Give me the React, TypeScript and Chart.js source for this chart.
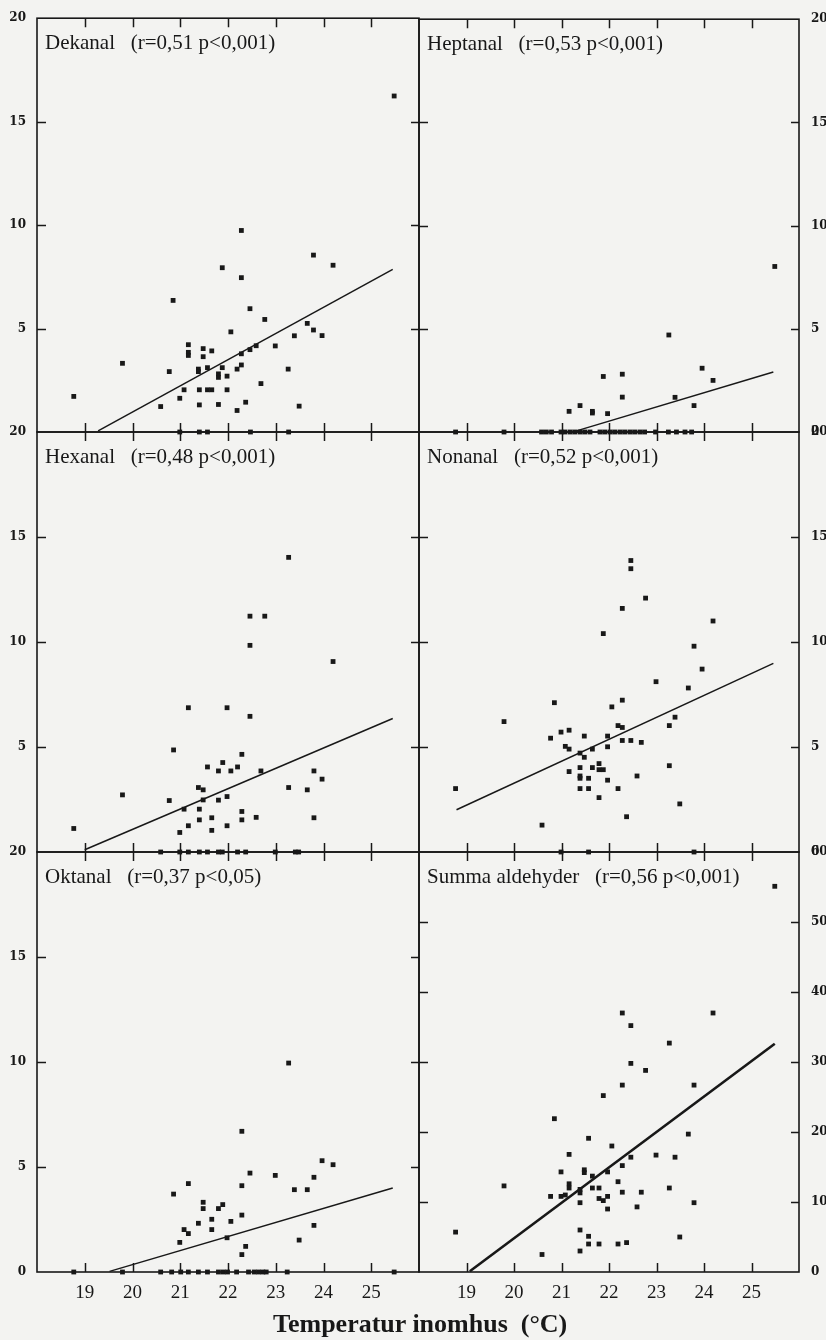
import React, { useEffect, useRef } from "react";
import { Chart, registerables } from "chart.js";

Chart.register(...registerables);

// ---------- DATA ----------
const xTickLabels = [19, 20, 21, 22, 23, 24, 25];

// Dekanal
const dekanalTemp = [18.77, 19.79, 20.85, 20.77, 20.59, 20.99, 21.08, 21.17, 21.17, 21.17, 21.38, 21.38, 21.4, 21.4, 21.48, 21.48, 21.57, 21.57, 21.66, 21.66, 21.8, 21.8, 21.8, 21.88, 21.88, 21.98, 21.98, 22.06, 22.19, 22.19, 22.28, 22.28, 22.28, 22.28, 22.37, 22.46, 22.46, 22.59, 22.69, 22.77, 22.99, 23.26, 23.39, 23.49, 23.66, 23.79, 23.79, 23.97, 24.2, 25.48];
const dekanalConc = [1.72, 3.32, 6.36, 2.92, 1.23, 1.63, 2.04, 4.22, 3.85, 3.7, 3.04, 2.92, 2.04, 1.31, 4.03, 3.64, 3.11, 2.04, 2.04, 3.92, 2.81, 2.64, 1.33, 7.94, 3.11, 2.7, 2.04, 4.84, 3.04, 1.04, 9.74, 7.46, 3.78, 3.24, 1.44, 5.96, 3.98, 4.17, 2.34, 5.44, 4.16, 3.04, 4.65, 1.25, 5.25, 8.55, 4.93, 4.66, 8.06, 16.24];
const dekanalZeroTemp = [20.99, 21.4, 21.57, 22.47, 23.27];
const dekanalFitTemp = [19.28, 25.45];
const dekanalFitConc = [0.05, 7.86];

// Heptanal
const heptanalTemp = [25.49, 23.26, 23.96, 24.19, 21.88, 22.28, 22.28, 23.39, 23.79, 21.16, 21.39, 21.65, 21.65, 21.97];
const heptanalConc = [8.02, 4.7, 3.09, 2.5, 2.69, 2.8, 1.69, 1.68, 1.28, 1.0, 1.28, 1.0, 0.92, 0.89];
const heptanalZeroTemp = [18.77, 19.79, 20.58, 20.68, 20.79, 20.99, 21.07, 21.18, 21.28, 21.39, 21.49, 21.6, 21.81, 21.91, 22.02, 22.12, 22.23, 22.33, 22.44, 22.54, 22.65, 22.75, 22.98, 23.25, 23.42, 23.6, 23.74];
const heptanalFitTemp = [21.28, 25.46];
const heptanalFitConc = [0.03, 2.91];

// Hexanal
const hexanalTemp = [18.77, 19.79, 20.86, 20.77, 20.99, 21.08, 21.17, 21.17, 21.38, 21.48, 21.48, 21.4, 21.4, 21.57, 21.66, 21.66, 21.8, 21.8, 21.89, 21.98, 21.98, 21.98, 22.06, 22.2, 22.29, 22.29, 22.29, 22.46, 22.46, 22.46, 22.59, 22.69, 22.77, 23.27, 23.27, 23.66, 23.8, 23.8, 23.97, 24.2];
const hexanalConc = [1.12, 2.72, 4.86, 2.45, 0.93, 2.04, 6.87, 1.25, 3.07, 2.96, 2.48, 2.04, 1.53, 4.05, 1.63, 1.03, 3.86, 2.47, 4.26, 6.87, 2.64, 1.25, 3.86, 4.05, 4.65, 1.93, 1.53, 11.23, 9.84, 6.46, 1.65, 3.86, 11.23, 14.03, 3.07, 2.96, 3.86, 1.63, 3.47, 9.07];
const hexanalZeroTemp = [20.59, 20.99, 21.17, 21.4, 21.57, 21.8, 21.88, 22.2, 22.37, 22.99, 23.41, 23.48];
const hexanalFitTemp = [19.0, 25.45];
const hexanalFitConc = [0.11, 6.36];

// Nonanal
const nonanalTemp = [18.77, 19.79, 20.59, 20.77, 20.85, 20.99, 21.16, 21.08, 21.16, 21.16, 21.39, 21.39, 21.39, 21.39, 21.39, 21.48, 21.48, 21.57, 21.57, 21.65, 21.65, 21.79, 21.79, 21.88, 21.79, 21.88, 21.97, 21.97, 21.97, 22.06, 22.19, 22.28, 22.19, 22.28, 22.28, 22.28, 22.37, 22.46, 22.46, 22.46, 22.59, 22.68, 22.77, 22.99, 23.27, 23.27, 23.39, 23.49, 23.67, 23.79, 23.96, 24.19];
const nonanalConc = [3.02, 6.21, 1.28, 5.42, 7.11, 5.71, 5.8, 5.03, 4.9, 3.83, 4.71, 4.02, 3.62, 3.51, 3.02, 5.52, 4.51, 3.51, 3.02, 4.9, 4.02, 4.21, 3.92, 3.92, 2.59, 10.4, 5.52, 5.01, 3.42, 6.91, 6.02, 5.93, 3.02, 7.23, 11.6, 5.31, 1.68, 13.88, 13.49, 5.31, 3.62, 5.22, 12.09, 8.11, 6.02, 4.11, 6.42, 2.29, 7.81, 9.8, 8.71, 11.0];
const nonanalZeroTemp = [20.99, 21.57, 23.79];
const nonanalFitTemp = [18.79, 25.46];
const nonanalFitConc = [2.01, 8.98];

// Oktanal
const oktanalTemp = [23.27, 22.29, 23.97, 24.2, 22.46, 22.99, 23.8, 21.17, 22.29, 23.39, 23.66, 20.86, 21.48, 21.48, 21.89, 21.8, 21.66, 22.06, 22.29, 21.38, 21.66, 21.08, 21.17, 23.8, 20.99, 21.98, 23.49, 22.37, 22.29];
const oktanalConc = [9.95, 6.7, 5.3, 5.11, 4.71, 4.6, 4.51, 4.21, 4.11, 3.92, 3.92, 3.71, 3.32, 3.02, 3.21, 3.02, 2.51, 2.41, 2.71, 2.32, 2.02, 2.02, 1.83, 2.22, 1.41, 1.63, 1.52, 1.22, 0.83];
const oktanalZeroTemp = [18.77, 19.79, 20.59, 20.82, 21.01, 21.17, 21.38, 21.57, 21.8, 21.9, 21.99, 22.18, 22.43, 22.55, 22.64, 22.73, 22.8, 23.24, 25.48];
const oktanalFitTemp = [19.52, 25.45];
const oktanalFitConc = [0.03, 4.0];

// Summa aldehyder
const summaTemp = [25.49, 22.28, 24.19, 22.46, 23.27, 22.46, 22.77, 22.28, 23.79, 21.88, 20.85, 23.67, 21.57, 22.06, 21.16, 22.99, 22.46, 23.39, 20.99, 21.48, 21.48, 21.97, 22.28, 21.65, 22.19, 21.16, 21.16, 21.39, 21.39, 21.65, 21.79, 22.28, 22.68, 23.27, 19.79, 20.77, 20.99, 21.08, 21.79, 21.88, 21.97, 21.39, 21.97, 22.59, 23.79, 18.77, 21.39, 21.57, 23.49, 21.57, 21.79, 22.19, 22.37, 21.39, 20.59];
const summaConc = [55.1, 37.0, 37.0, 35.2, 32.7, 29.8, 28.8, 26.7, 26.7, 25.2, 21.9, 19.7, 19.1, 18.0, 16.8, 16.7, 16.4, 16.4, 14.3, 14.6, 14.2, 14.3, 15.2, 13.7, 12.9, 12.6, 12.0, 11.8, 11.3, 12.0, 12.0, 11.4, 11.4, 12.0, 12.3, 10.8, 10.8, 11.0, 10.5, 10.2, 10.8, 9.9, 9.0, 9.3, 9.9, 5.7, 6.0, 5.1, 5.0, 4.0, 4.0, 4.0, 4.2, 3.0, 2.5];
const summaZeroTemp: number[] = [];
const summaFitTemp = [19.07, 25.49];
const summaFitConc = [0.1, 32.6];

// ---------- PANELS ----------
type PanelDef = {
  name: string;
  stats: string;
  temp: number[];
  conc: number[];
  zeroTemp: number[];
  fitTemp: number[];
  fitConc: number[];
  yMax: number;
  yStep: number;
  col: number;
  row: number;
  hideZeroLabel: boolean;
  fitWidth: number;
};

const panels: PanelDef[] = [
  { name: "Dekanal", stats: "(r=0,51 p<0,001)", temp: dekanalTemp, conc: dekanalConc, zeroTemp: dekanalZeroTemp, fitTemp: dekanalFitTemp, fitConc: dekanalFitConc, yMax: 20, yStep: 5, col: 0, row: 0, hideZeroLabel: true, fitWidth: 1.5 },
  { name: "Heptanal", stats: "(r=0,53 p<0,001)", temp: heptanalTemp, conc: heptanalConc, zeroTemp: heptanalZeroTemp, fitTemp: heptanalFitTemp, fitConc: heptanalFitConc, yMax: 20, yStep: 5, col: 1, row: 0, hideZeroLabel: false, fitWidth: 1.5 },
  { name: "Hexanal", stats: "(r=0,48 p<0,001)", temp: hexanalTemp, conc: hexanalConc, zeroTemp: hexanalZeroTemp, fitTemp: hexanalFitTemp, fitConc: hexanalFitConc, yMax: 20, yStep: 5, col: 0, row: 1, hideZeroLabel: true, fitWidth: 1.5 },
  { name: "Nonanal", stats: "(r=0,52 p<0,001)", temp: nonanalTemp, conc: nonanalConc, zeroTemp: nonanalZeroTemp, fitTemp: nonanalFitTemp, fitConc: nonanalFitConc, yMax: 20, yStep: 5, col: 1, row: 1, hideZeroLabel: false, fitWidth: 1.5 },
  { name: "Oktanal", stats: "(r=0,37 p<0,05)", temp: oktanalTemp, conc: oktanalConc, zeroTemp: oktanalZeroTemp, fitTemp: oktanalFitTemp, fitConc: oktanalFitConc, yMax: 20, yStep: 5, col: 0, row: 2, hideZeroLabel: false, fitWidth: 1.5 },
  { name: "Summa aldehyder", stats: "(r=0,56 p<0,001)", temp: summaTemp, conc: summaConc, zeroTemp: summaZeroTemp, fitTemp: summaFitTemp, fitConc: summaFitConc, yMax: 60, yStep: 10, col: 1, row: 2, hideZeroLabel: false, fitWidth: 2.6 },
];

// ---------- LAYOUT ----------
const PAGE_W = 826;
const PAGE_H = 1340;
const COL_LEFT = [37, 419];
const COL_RIGHT = [419, 799];
const ROW_TOP = [10, 432, 852];
const ROW_BOTTOM = [432, 852, 1272];
const Y_AXIS_W = 40;
const X_AXIS_H = 40;
const INK = "#181818";
const BG = "#f3f3f1";

const framePlugin = {
  id: "panelFrame",
  afterDraw(chart: any, _args: any, opts: any) {
    const { ctx, chartArea } = chart;
    const xs = chart.scales.x;
    const ys = chart.scales.y;
    const { left, right, top, bottom } = chartArea;
    ctx.save();
    ctx.strokeStyle = INK;
    ctx.lineWidth = 1.6;
    ctx.strokeRect(left, top, right - left, bottom - top);
    ctx.lineWidth = 1.5;
    ctx.beginPath();
    for (const v of xTickLabels) {
      const px = Math.round(xs.getPixelForValue(v)) + 0.5;
      ctx.moveTo(px, top);
      ctx.lineTo(px, top + 9);
      ctx.moveTo(px, bottom);
      ctx.lineTo(px, bottom - 9);
    }
    for (let v = opts.yStep; v < opts.yMax; v += opts.yStep) {
      const py = Math.round(ys.getPixelForValue(v)) + 0.5;
      ctx.moveTo(left, py);
      ctx.lineTo(left + 9, py);
      ctx.moveTo(right, py);
      ctx.lineTo(right - 8, py);
    }
    ctx.stroke();
    ctx.fillStyle = INK;
    ctx.font = '21px "Liberation Serif", "Times New Roman", serif';
    ctx.textBaseline = "alphabetic";
    ctx.textAlign = "left";
    ctx.fillText(opts.name + "   " + opts.stats, left + 8, top + 30.5);
    ctx.restore();
  },
};

function Panel({ def }: { def: PanelDef }) {
  const ref = useRef<HTMLCanvasElement | null>(null);
  useEffect(() => {
    if (!ref.current) return;
    const { col, row } = def;
    const left = COL_LEFT[col];
    const right = COL_RIGHT[col];
    const top = ROW_TOP[row];
    const bottom = ROW_BOTTOM[row];
    const xh = row === 2 ? X_AXIS_H : 0;
    const points = def.temp.map((t, i) => ({ x: t, y: def.conc[i] })).concat(def.zeroTemp.map((t) => ({ x: t, y: 0 })));
    const fit = def.fitTemp.map((t, i) => ({ x: t, y: def.fitConc[i] }));
    const chart = new Chart(ref.current, {
      type: "scatter",
      data: {
        datasets: [
          {
            type: "scatter",
            data: points,
            pointStyle: "rect",
            pointRadius: 3.4,
            pointHoverRadius: 3.4,
            backgroundColor: INK,
            borderColor: INK,
            borderWidth: 0,
            clip: false,
          } as any,
          {
            type: "line",
            data: fit,
            borderColor: INK,
            borderWidth: def.fitWidth,
            pointRadius: 0,
            fill: false,
            tension: 0,
            clip: false,
          } as any,
        ],
      },
      options: {
        responsive: false,
        animation: false,
        events: [],
        layout: {
          autoPadding: false,
          padding: {
            left: col === 0 ? left - Y_AXIS_W : left,
            right: col === 0 ? PAGE_W - right : PAGE_W - right - Y_AXIS_W,
            top: top,
            bottom: PAGE_H - bottom - xh,
          },
        },
        scales: {
          x: {
            type: "linear",
            position: "bottom",
            min: 18,
            max: 26,
            grid: { display: false, drawTicks: false },
            border: { display: false },
            ticks: {
              display: row === 2,
              stepSize: 1,
              autoSkip: false,
              maxRotation: 0,
              padding: 10,
              color: INK,
              font: { family: '"Liberation Serif", "Times New Roman", serif', size: 19 },
              callback: (v: any) => (xTickLabels.includes(Number(v)) ? String(v) : ""),
            },
            afterFit: (s: any) => {
              s.height = xh;
            },
          },
          y: {
            type: "linear",
            position: col === 0 ? "left" : "right",
            min: 0,
            max: def.yMax,
            grid: { display: false, drawTicks: false },
            border: { display: false },
            ticks: {
              stepSize: def.yStep,
              padding: col === 0 ? 11 : 12,
              color: INK,
              font: { family: '"DejaVu Serif", serif', size: 12, weight: "bold" },
              callback: (v: any) => (def.hideZeroLabel && Number(v) === 0 ? "" : String(v)),
            },
            afterFit: (s: any) => {
              s.width = Y_AXIS_W;
            },
          },
        },
        plugins: {
          legend: { display: false },
          tooltip: { enabled: false },
          panelFrame: { name: def.name, stats: def.stats, yStep: def.yStep, yMax: def.yMax },
        } as any,
      },
      plugins: [framePlugin],
    });
    return () => chart.destroy();
  }, [def]);
  return (
    <canvas
      ref={ref}
      width={PAGE_W}
      height={PAGE_H}
      style={{ position: "absolute", left: 0, top: 0, width: PAGE_W, height: PAGE_H }}
    />
  );
}

export default function App() {
  return (
    <div style={{ position: "absolute", left: 0, top: 0, width: PAGE_W, height: PAGE_H, background: BG, overflow: "hidden" }}>
      {panels.map((p) => (
        <Panel key={p.name} def={p} />
      ))}
      <div
        style={{
          position: "absolute",
          left: 273,
          top: 1311,
          font: 'bold 26px "Liberation Serif", "Times New Roman", serif',
          lineHeight: "26px",
          whiteSpace: "pre",
          color: INK,
        }}
      >
        {"Temperatur inomhus  (°C)"}
      </div>
    </div>
  );
}
